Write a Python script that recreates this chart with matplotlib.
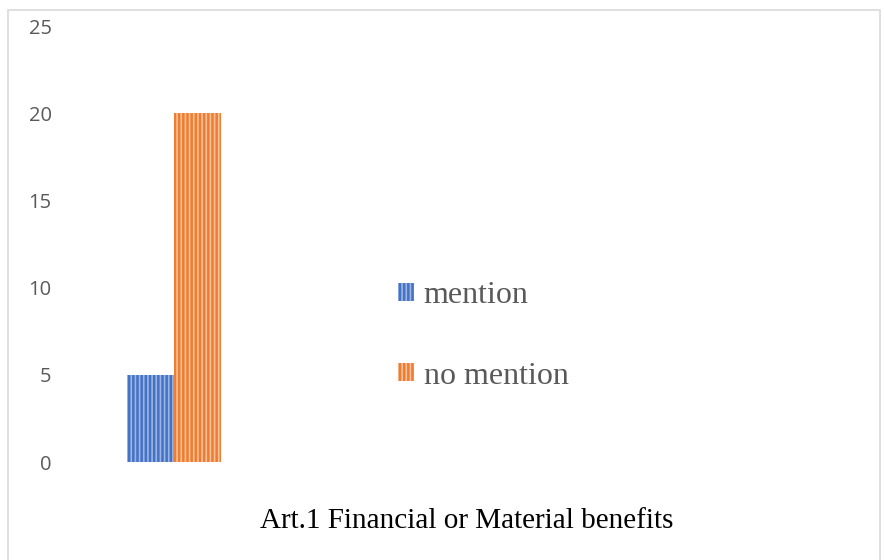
import matplotlib
matplotlib.use("Agg")
import matplotlib.pyplot as plt
from matplotlib.patches import Patch, Rectangle

plt.rcParams["hatch.linewidth"] = 1.2

category = "Art.1 Financial or Material benefits"
series = ["mention", "no mention"]
values = [5, 20]
y_ticks = [0, 5, 10, 15, 20, 25]

FACE = ["#4472C4", "#ED7D31"]
STRIPE = ["#9DB5E3", "#F7C19C"]
TEXT_GRAY = "#595959"

W, H = 885, 560
fig = plt.figure(figsize=(W / 100, H / 100), dpi=100, facecolor="white")

# outer chart border (bottom edge is cut off in the reference)
fig.patches.append(Rectangle((8 / W, -0.05), (880 - 8) / W, 1.05 - 10 / H,
                             transform=fig.transFigure, fill=False,
                             edgecolor="#D9D9D9", linewidth=1.2))

ax = fig.add_axes([60 / W, (H - 462) / H, (288 - 60) / W, (462 - 26) / H])
bar_w = 0.41
offsets = [-bar_w / 2, bar_w / 2]
for off, v, fc, sc in zip(offsets, values, FACE, STRIPE):
    ax.bar(off, v, width=bar_w, color=fc, edgecolor=sc, linewidth=0,
           hatch="||||")

ax.set_xlim(-1, 1)
ax.set_ylim(0, 25)
ax.set_yticks(y_ticks)
ax.set_xticks([])
ax.tick_params(axis="y", length=0, pad=6, labelsize=14.5, colors=TEXT_GRAY)
for lab in ax.get_yticklabels():
    lab.set_fontfamily("Open Sans")
for s in ax.spines.values():
    s.set_visible(False)

handles = [Patch(facecolor=fc, edgecolor=sc, linewidth=0, hatch="||||")
           for fc, sc in zip(FACE, STRIPE)]
leg = fig.legend(handles, series, loc="center left",
                 bbox_to_anchor=(398 / W, 1 - 336 / H), frameon=False,
                 borderpad=0, borderaxespad=0, handlelength=0.5,
                 handleheight=0.5, handletextpad=0.3, labelspacing=1.6,
                 prop={"family": "Liberation Serif", "size": 23})
for t in leg.get_texts():
    t.set_color(TEXT_GRAY)

fig.text(467 / W, 1 - 521 / H, category, ha="center", va="center",
         fontsize=21, family="Liberation Serif", color="black")

fig.savefig("out.png", dpi=100, facecolor="white")
